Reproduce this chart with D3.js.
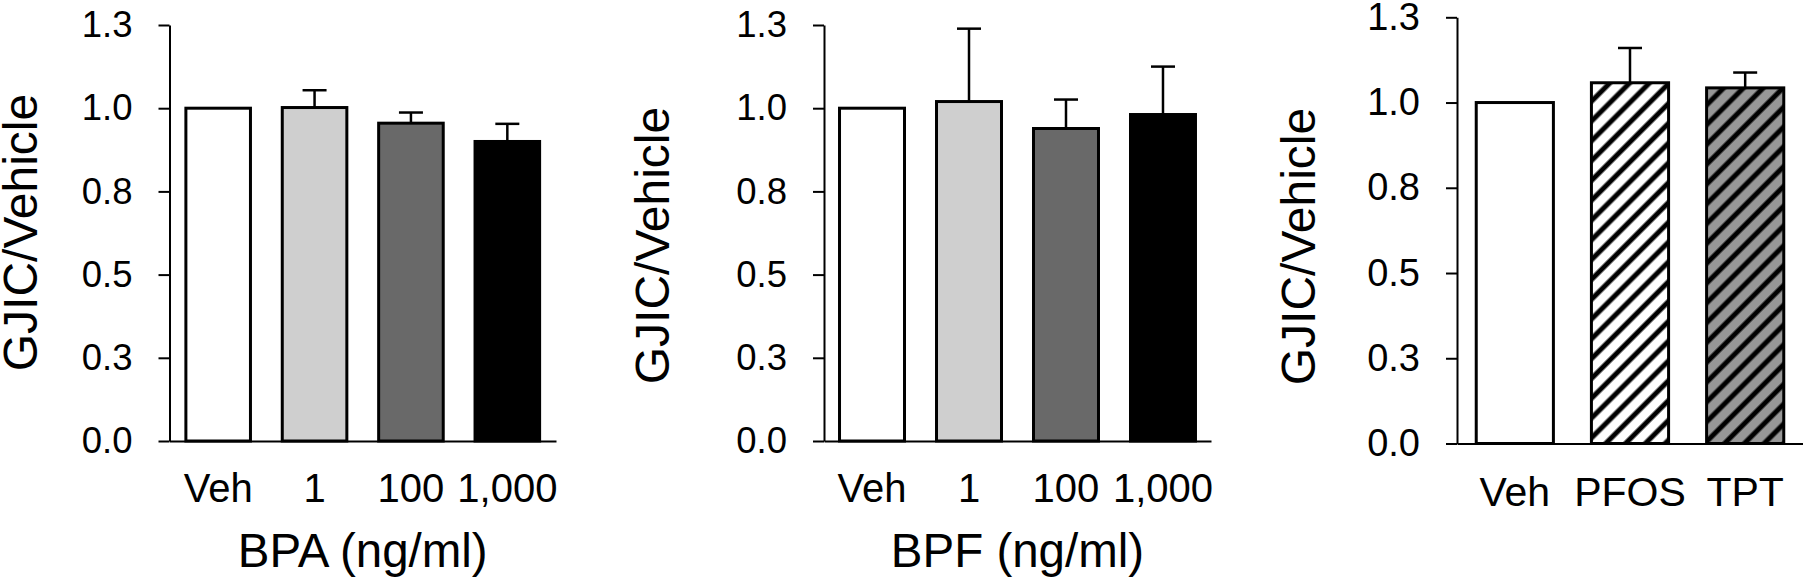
<!DOCTYPE html>
<html>
<head>
<meta charset="utf-8">
<script src="https://cdn.jsdelivr.net/npm/d3@7"></script>
<style>
  body { margin: 0; background: #fff; }
  svg { display: block; font-family: "Liberation Sans", Arial, sans-serif; }
</style>
</head>
<body>
<script>
// y axis: ticks every 0.25, printed with one decimal like the original
const yTicks = [0, 0.25, 0.5, 0.75, 1.0, 1.25];
const yTickLabels = ["0.0", "0.3", "0.5", "0.8", "1.0", "1.3"];

// BPA panel
const bpaGroups = ["Veh", "1", "100", "1,000"];
const bpaMeans = [1.0, 1.002, 0.955, 0.900];
const bpaErr = [0, 0.052, 0.032, 0.053];

// BPF panel
const bpfGroups = ["Veh", "1", "100", "1,000"];
const bpfMeans = [1.0, 1.020, 0.939, 0.981];
const bpfErr = [0, 0.219, 0.087, 0.144];

// PFOS / TPT panel
const chemGroups = ["Veh", "PFOS", "TPT"];
const chemMeans = [1.0, 1.058, 1.043];
const chemErr = [0, 0.102, 0.045];

const width = 1803, height = 579;

const svg = d3.select("body").append("svg")
  .attr("width", width)
  .attr("height", height);

// hatch patterns for the last panel
const defs = svg.append("defs");
const hatch = (id, bg) => {
  const p = defs.append("pattern")
    .attr("id", id)
    .attr("patternUnits", "userSpaceOnUse")
    .attr("width", 14)
    .attr("height", 14)
    .attr("patternTransform", "rotate(45)");
  p.append("rect").attr("width", 14).attr("height", 14).attr("fill", bg);
  p.append("line")
    .attr("x1", 7).attr("y1", 0).attr("x2", 7).attr("y2", 14)
    .attr("stroke", "#000").attr("stroke-width", 5);
};
hatch("hatchWhite", "#fff");
hatch("hatchGray", "#979797");

const panels = [
  {
    groups: bpaGroups, means: bpaMeans, err: bpaErr,
    fills: ["#fff", "#cfcfcf", "#696969", "#000"],
    x0: 169.5, x1: 556, yTop: 25, yBottom: 441, outer: 0.17,
    tickFont: 36.5, labelFont: 40, labelY: 502,
    title: "BPA (ng/ml)", titleY: 567,
    yLabelX: 37, yLabelY: 232.5
  },
  {
    groups: bpfGroups, means: bpfMeans, err: bpfErr,
    fills: ["#fff", "#cfcfcf", "#696969", "#000"],
    x0: 824, x1: 1211, yTop: 25, yBottom: 441, outer: 0.16,
    tickFont: 36.5, labelFont: 40, labelY: 502,
    title: "BPF (ng/ml)", titleY: 567,
    yLabelX: 669, yLabelY: 245.5
  },
  {
    groups: chemGroups, means: chemMeans, err: chemErr,
    fills: ["#fff", "url(#hatchWhite)", "url(#hatchGray)"],
    x0: 1457, x1: 1803, yTop: 17.3, yBottom: 443.5, outer: 0.167,
    tickFont: 38, labelFont: 41, labelY: 506,
    title: null,
    yLabelX: 1315, yLabelY: 246.5
  }
];

panels.forEach(pn => {
  const g = svg.append("g");

  const x = d3.scaleBand()
    .domain(pn.groups)
    .range([pn.x0, pn.x1])
    .paddingInner(0.33)
    .paddingOuter(pn.outer);

  const y = d3.scaleLinear()
    .domain([0, 1.25])
    .range([pn.yBottom, pn.yTop]);

  const rows = pn.groups.map((k, i) => ({k: k, m: pn.means[i], e: pn.err[i], f: pn.fills[i]}));

  // bars
  g.selectAll("rect.bar")
    .data(rows)
    .join("rect")
    .attr("class", "bar")
    .attr("x", d => x(d.k))
    .attr("width", x.bandwidth())
    .attr("y", d => y(d.m))
    .attr("height", d => y(0) - y(d.m))
    .attr("fill", d => d.f)
    .attr("stroke", "#000")
    .attr("stroke-width", 3);

  // upper error bars only
  const eb = g.selectAll("g.err")
    .data(rows.filter(d => d.e > 0))
    .join("g")
    .attr("class", "err")
    .attr("stroke", "#000")
    .attr("stroke-width", 2.5);
  eb.append("line")
    .attr("x1", d => x(d.k) + x.bandwidth() / 2)
    .attr("x2", d => x(d.k) + x.bandwidth() / 2)
    .attr("y1", d => y(d.m))
    .attr("y2", d => y(d.m + d.e));
  eb.append("line")
    .attr("x1", d => x(d.k) + x.bandwidth() / 2 - 12)
    .attr("x2", d => x(d.k) + x.bandwidth() / 2 + 12)
    .attr("y1", d => y(d.m + d.e))
    .attr("y2", d => y(d.m + d.e));

  // y axis
  const yAxis = d3.axisLeft(y)
    .tickValues(yTicks)
    .tickFormat((d, i) => yTickLabels[i])
    .tickSize(11)
    .tickSizeOuter(0)
    .tickPadding(26);
  const ya = g.append("g")
    .attr("transform", `translate(${pn.x0},0)`)
    .call(yAxis);
  ya.selectAll("path, line").attr("stroke", "#000").attr("stroke-width", 2);
  ya.selectAll("text")
    .attr("font-size", pn.tickFont)
    .attr("font-family", "Liberation Sans, Arial, sans-serif")
    .attr("fill", "#000");

  // x axis (line only, labels below)
  const xAxis = d3.axisBottom(x).tickSize(0).tickSizeOuter(0);
  const xa = g.append("g")
    .attr("transform", `translate(0,${pn.yBottom})`)
    .call(xAxis);
  xa.select("path").attr("stroke", "#000").attr("stroke-width", 2);
  xa.selectAll("text")
    .attr("y", pn.labelY - pn.yBottom)
    .attr("dy", 0)
    .attr("font-size", pn.labelFont)
    .attr("font-family", "Liberation Sans, Arial, sans-serif")
    .attr("fill", "#000");

  // axis titles
  g.append("text")
    .attr("transform", `translate(${pn.yLabelX},${pn.yLabelY}) rotate(-90)`)
    .attr("text-anchor", "middle")
    .attr("font-size", 48)
    .text("GJIC/Vehicle");

  if (pn.title) {
    g.append("text")
      .attr("x", (pn.x0 + pn.x1) / 2)
      .attr("y", pn.titleY)
      .attr("text-anchor", "middle")
      .attr("font-size", 47.5)
      .text(pn.title);
  }
});
</script>
</body>
</html>
